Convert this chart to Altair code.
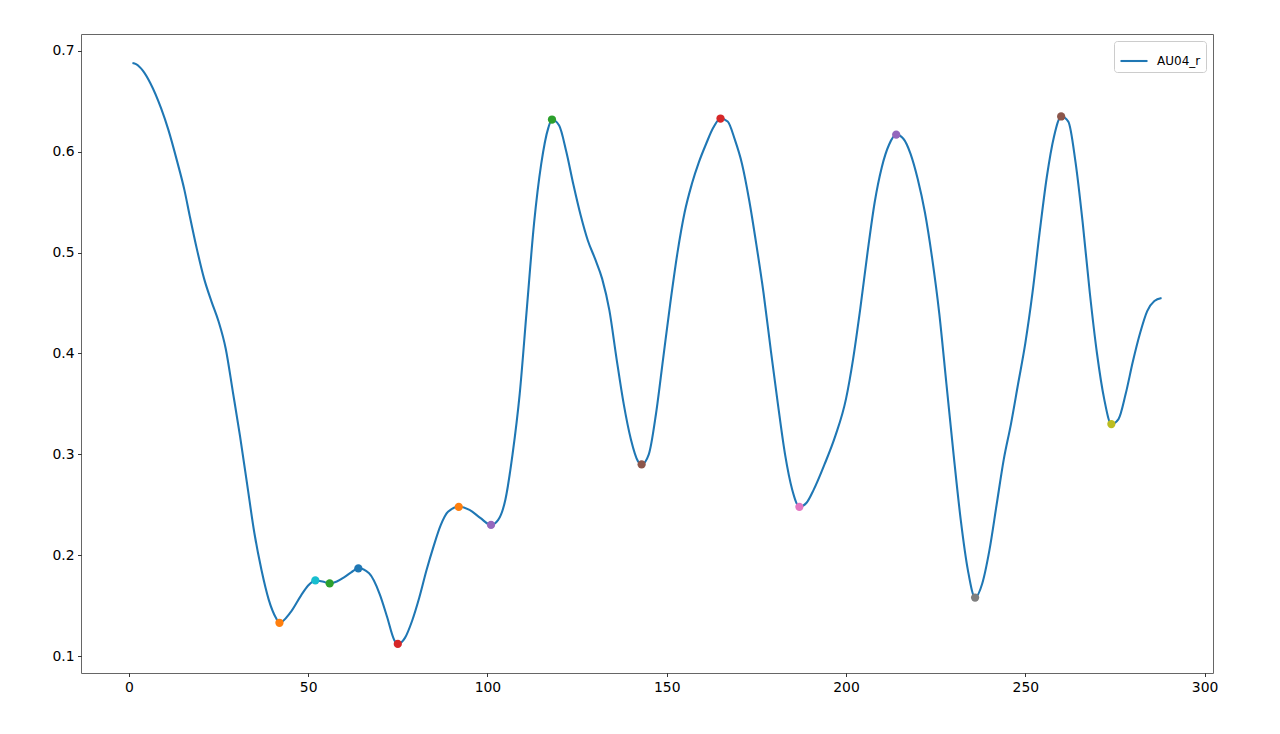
import altair as alt
import pandas as pd

# Curve samples (frame index, AU04_r value)
line_x = [1, 2, 4, 6, 9, 11, 13.5, 15.5, 17, 19, 21, 23, 25, 27, 29, 31, 33, 35, 37, 39, 41, 42,
          45, 48, 50, 52, 54, 56, 58, 60, 62, 64, 67, 70, 72, 74, 75, 77, 79, 81, 83, 85,
          87, 89, 92, 95, 98, 101, 103, 105, 107, 109, 111, 113, 115, 117, 118, 120, 122, 124,
          126, 128, 130, 132, 134, 136, 138, 140, 142, 143, 145, 147, 149, 151, 153, 155, 157,
          159, 161, 163, 165, 167, 169, 171, 173, 175, 177, 179, 181, 183, 185, 187, 189, 191,
          194, 197, 200, 202, 204, 206, 208, 210, 212, 214, 216, 218, 220, 222, 224, 226, 228,
          230, 232, 234, 236, 238, 240, 242, 244, 246, 248, 250, 252, 254, 256, 258, 260, 262,
          264, 266, 268, 270, 272, 274, 276, 278, 280, 282, 284, 286, 288]
line_y = [0.688, 0.687, 0.680, 0.668, 0.643, 0.622, 0.590, 0.562, 0.536, 0.503, 0.474, 0.452,
          0.432, 0.405, 0.362, 0.318, 0.270, 0.222, 0.185, 0.156, 0.138, 0.133,
          0.143, 0.160, 0.170, 0.175, 0.174, 0.172, 0.174, 0.178, 0.183, 0.187, 0.182,
          0.161, 0.139, 0.116, 0.112, 0.118, 0.135, 0.158, 0.185, 0.209,
          0.230, 0.243, 0.248, 0.245, 0.237, 0.230, 0.235, 0.255, 0.300, 0.360, 0.445, 0.529,
          0.588, 0.624, 0.632, 0.626, 0.600, 0.567,
          0.537, 0.512, 0.494, 0.474, 0.443, 0.395, 0.350, 0.315, 0.293, 0.290, 0.300, 0.340,
          0.395, 0.450, 0.500, 0.540, 0.568,
          0.590, 0.608, 0.624, 0.633, 0.630, 0.612, 0.588, 0.552, 0.508, 0.460, 0.404, 0.350,
          0.300, 0.265, 0.248, 0.252, 0.265,
          0.290, 0.318, 0.355, 0.395, 0.445, 0.500, 0.550, 0.585, 0.607, 0.617, 0.613, 0.598,
          0.573, 0.540, 0.495, 0.440, 0.370,
          0.300, 0.235, 0.185, 0.158, 0.172, 0.205, 0.250, 0.295, 0.330, 0.370, 0.410, 0.460,
          0.520, 0.575, 0.615, 0.635, 0.630,
          0.590, 0.530, 0.460, 0.400, 0.355, 0.330, 0.335, 0.360, 0.392, 0.420, 0.442, 0.452,
          0.455]

# Marked extrema, in plotting order (troughs first, then peaks)
mark_x = [42, 56, 75, 101, 143, 187, 236, 274, 52, 64, 92, 118, 165, 214, 260]
mark_y = [0.133, 0.172, 0.112, 0.230, 0.290, 0.248, 0.158, 0.330,
          0.175, 0.187, 0.248, 0.632, 0.633, 0.617, 0.635]

series_name = "AU04_r"

tab10 = ["#1f77b4", "#ff7f0e", "#2ca02c", "#d62728", "#9467bd",
         "#8c564b", "#e377c2", "#7f7f7f", "#bcbd22", "#17becf"]

line_df = pd.DataFrame({"frame": line_x, "value": line_y, "series": series_name})
mark_df = pd.DataFrame({"frame": mark_x, "value": mark_y, "k": list(range(len(mark_x)))})

FONT = "DejaVu Sans"
FS = 13.9

xscale = alt.Scale(domain=[-13.35, 302.35], nice=False, zero=False)
yscale = alt.Scale(domain=[0.0832, 0.7168], nice=False, zero=False)

xaxis = alt.Axis(values=[0, 50, 100, 150, 200, 250, 300], title=None, grid=False,
                 domain=False, tickSize=3.5, tickWidth=0.8, tickColor="#000",
                 labelPadding=3.5, labelFont=FONT, labelFontSize=FS, labelColor="#000")
yaxis = alt.Axis(values=[0.1, 0.2, 0.3, 0.4, 0.5, 0.6, 0.7], format=".1f", title=None,
                 grid=False, domain=False, tickSize=3.5, tickWidth=0.8, tickColor="#000",
                 labelPadding=3.5, labelFont=FONT, labelFontSize=FS, labelColor="#000")

line = alt.Chart(line_df).mark_line(strokeWidth=2.08, interpolate="monotone").encode(
    x=alt.X("frame:Q", scale=xscale, axis=xaxis),
    y=alt.Y("value:Q", scale=yscale, axis=yaxis),
    color=alt.Color("series:N", scale=alt.Scale(domain=[series_name], range=["#1f77b4"]),
                    legend=alt.Legend(title=None, orient="top-right", offset=7,
                                      symbolType="stroke", symbolSize=729,
                                      symbolStrokeWidth=2.08, labelFont=FONT,
                                      labelFontSize=12, labelColor="#000", labelOffset=8,
                                      padding=5, fillColor="white", strokeColor="#cccccc",
                                      cornerRadius=3)),
)

points = alt.Chart(mark_df).mark_point(filled=True, opacity=1, size=68, shape="circle").encode(
    x=alt.X("frame:Q", scale=xscale),
    y=alt.Y("value:Q", scale=yscale),
    color=alt.Color("k:N",
                    scale=alt.Scale(domain=list(range(len(mark_x))),
                                    range=[tab10[(i + 1) % 10] for i in range(len(mark_x))]),
                    legend=None),
)

chart = alt.layer(line, points).resolve_scale(color="independent").properties(
    width=1132, height=639,
    autosize=alt.AutoSizeParams(type="none"),
    padding={"left": 73, "top": 26, "right": 59, "bottom": 53},
).configure(background="white").configure_view(stroke="#666666", strokeWidth=1)

chart.save("out.html", embed_options={"renderer": "svg", "actions": False})
